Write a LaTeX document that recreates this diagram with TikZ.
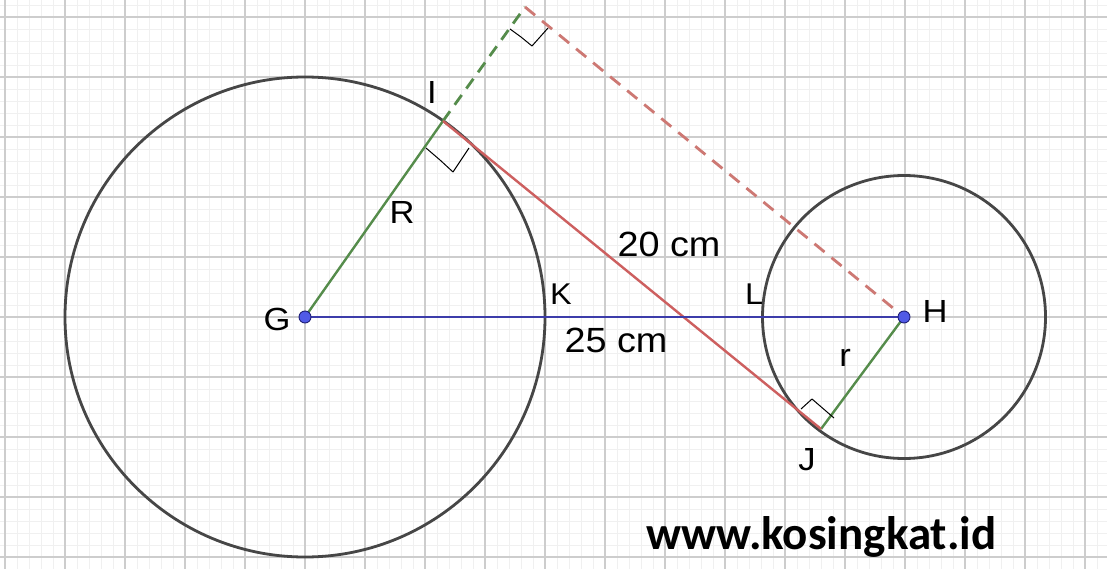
\documentclass[tikz,border=0pt]{standalone}
\usepackage{fontspec}
\setmainfont{Liberation Sans}
\newfontfamily\wmfont{Carlito}
\definecolor{gridminor}{RGB}{240,240,240}
\definecolor{gridmajor}{RGB}{205,205,205}
\definecolor{circgray}{RGB}{70,70,70}
\definecolor{segblue}{RGB}{60,60,170}
\definecolor{seggreen}{RGB}{85,140,75}
\definecolor{segred}{RGB}{205,95,95}
\definecolor{dashred}{RGB}{205,120,115}
\definecolor{dotfill}{RGB}{80,90,230}
\definecolor{dotdraw}{RGB}{30,30,120}
\tikzset{
  circ/.style={draw=circgray, line width=2.8pt},
  bluseg/.style={draw=segblue, line width=2.4pt},
  grnseg/.style={draw=seggreen, line width=2.4pt},
  redseg/.style={draw=segred, line width=2.4pt},
  grndash/.style={draw=seggreen, line width=2.8pt, dash pattern=on 12pt off 8pt},
  reddash/.style={draw=dashred, line width=2.8pt, dash pattern=on 13pt off 9pt},
  rtmark/.style={draw=black, line width=1pt, line join=round},
  ptdot/.style={circle, fill=dotfill, draw=dotdraw, line width=0.9pt, minimum size=12pt, inner sep=0pt},
  lbl/.style={font=\fontsize{32}{32}\selectfont, inner sep=0pt, anchor=center, xscale=1.08},
  lblcm/.style={font=\fontsize{35}{35}\selectfont, inner sep=0pt, anchor=center, xscale=1.08},
}
\begin{document}
\begin{tikzpicture}[x=1pt, y=-1pt]
\useasboundingbox (0,0) rectangle (1107,569);
\fill[white] (0,0) rectangle (1107,569);
% grid
\foreach \x in {5,17,...,1107} \draw[gridminor, line width=0.7pt] (\x,0) -- (\x,569);
\foreach \y in {5,17,...,569} \draw[gridminor, line width=0.7pt] (0,\y) -- (1107,\y);
\foreach \x in {5,65,...,1107} \draw[gridmajor, line width=1.1pt] (\x,0) -- (\x,569);
\foreach \y in {17,77,...,569} \draw[gridmajor, line width=1.1pt] (0,\y) -- (1107,\y);
% points
\coordinate (G) at (305,317);
\coordinate (H) at (904,317);
\coordinate (I) at (443,121);
\coordinate (J) at (821,429);
\coordinate (C) at (525,7);
% circles
\draw[circ] (G) circle (240);
\draw[circ] (H) circle (141.5);
% segments
\draw[grndash] (I) -- (C);
\draw[reddash] (C) -- (H);
\draw[grnseg] (G) -- (I);
\draw[grnseg] (H) -- (J);
\draw[redseg] (I) -- (J);
\draw[bluseg] (G) -- (H);
% right angle marks
\draw[rtmark] (426,148) -- (440,160) -- (453,172) -- (461,160) -- (469,148);
\draw[rtmark] (510,29) -- (521,37) -- (532,46) -- (540,37) -- (548,28);
\draw[rtmark] (801,409) -- (812,399) -- (834,418);
% dots
\node[ptdot] (Gd) at (G) {};
\node[ptdot] (Hd) at (H) {};
% labels
\node[lbl] (lG) at (277,319) {G};
\node[lbl] (lH) at (935,311) {H};
\node[lbl] (lI) at (432,92) {I};
\node[lbl] (lJ) at (807,460) {J};
\node[lbl, font=\fontsize{30}{30}\selectfont] (lK) at (561,294) {K};
\node[lbl, font=\fontsize{30}{30}\selectfont] (lL) at (754,294) {L};
\node[lbl] (lR) at (402,212) {R};
\node[lbl] (lr) at (845,358) {r};
\node[lblcm] (l20) at (669,244) {20 cm};
\node[lblcm] (l25) at (616,340) {25 cm};
\node[font=\wmfont\bfseries\fontsize{47}{47}\selectfont, inner sep=0pt, anchor=base west] (wm) at (646,549) {www.kosingkat.id};
\end{tikzpicture}
\end{document}
